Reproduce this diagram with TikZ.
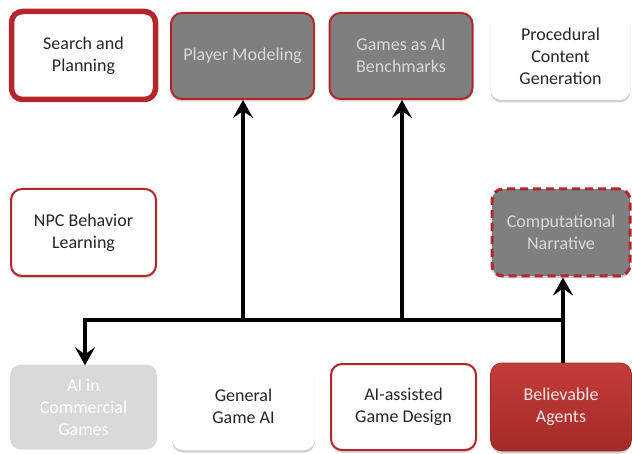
\documentclass[tikz,border=0pt]{standalone}
\usepackage{fontspec}
\setmainfont{Carlito}
\usetikzlibrary{arrows.meta,shadows}
\definecolor{bred}{HTML}{B3262C}
\definecolor{dgray}{HTML}{7F7F7F}
\definecolor{lgray}{HTML}{D9D9D9}
\definecolor{rfill}{HTML}{C0322F}
\definecolor{txt}{HTML}{262626}
\tikzset{
  box/.style={rounded corners=11pt, align=center, font=\fontsize{18}{22}\selectfont,
    inner sep=0pt, text=txt},
  shad/.style={drop shadow={shadow xshift=0pt, shadow yshift=-2.5pt, opacity=0.18, fill=black}},
  whitebox/.style={box, fill=white, shad},
  redline/.style={box, draw=bred, line width=2pt, fill=white, shad},
  thickred/.style={box, draw=bred, line width=5.5pt, fill=white, shad},
  graybox/.style={box, draw=bred, line width=2pt, fill=dgray, text=lgray, shad},
  dashgray/.style={box, draw=bred, line width=3pt, dash pattern=on 8pt off 5pt, fill=dgray, text=lgray, shad},
  lightbox/.style={box, fill=lgray, text=white!95!lgray},
  redbox/.style={box, top color=rfill!95!white, bottom color=rfill!85!black, draw=rfill!80!black, line width=0.6pt, text=white!88!rfill, shad},
  conn/.style={line width=3.6pt, black, line join=miter},
  arr/.style={conn, -{Stealth[length=18pt,width=20pt,inset=7pt]}},
}
\begin{document}
\begin{tikzpicture}[x=1pt,y=-1pt]
\useasboundingbox (0,0) rectangle (632,454);
% top row
\node[thickred, minimum width=144pt, minimum height=88pt] (sp) at (83.5,55.5) {Search and\\Planning};
\node[graybox, minimum width=143pt, minimum height=86pt] (pm) at (242.5,56) {Player Modeling};
\node[graybox, minimum width=143pt, minimum height=86pt] (ga) at (401,56) {Games as AI\\Benchmarks};
\node[whitebox, minimum width=140pt, minimum height=88pt] (pcg) at (560.5,56) {Procedural\\Content\\Generation};
% middle row
\node[redline, minimum width=145pt, minimum height=87pt] (npc) at (83.5,232.5) {NPC Behavior\\Learning};
\node[dashgray, minimum width=138pt, minimum height=87pt] (cn) at (561,232.5) {Computational\\Narrative};
% bottom row
\node[lightbox, minimum width=147pt, minimum height=85pt] (aic) at (83.5,407) {AI in\\Commercial\\Games};
\node[whitebox, minimum width=143pt, minimum height=87pt] (gga) at (243.5,406.5) {General\\Game AI};
\node[redline, minimum width=145pt, minimum height=86pt] (aad) at (403.5,407) {AI-assisted\\Game Design};
\node[redbox, minimum width=141pt, minimum height=88pt] (ba) at (561,407) {Believable\\Agents};
% connectors
\coordinate (j) at (563,320);
\coordinate (jl) at (85,320);
\coordinate (jp) at (243,320);
\coordinate (jg) at (402,320);
\draw[arr] (ba.north -| j) -- (cn.south -| j);
\draw[arr] (j) -- (jl) -- ([yshift=-1pt]aic.north -| jl);
\draw[arr] (jp) -- (pm.south -| jp);
\draw[arr] (jg) -- (ga.south -| jg);
\end{tikzpicture}
\end{document}
